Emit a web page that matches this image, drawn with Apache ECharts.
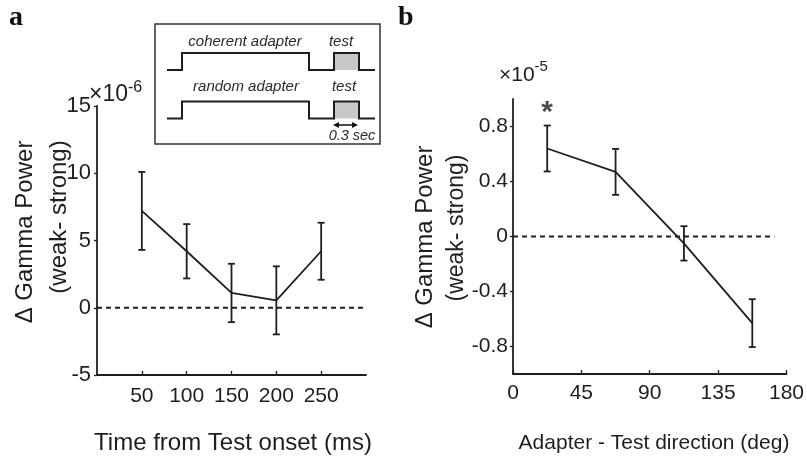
<!DOCTYPE html>
<html><head><meta charset="utf-8">
<script src="https://cdn.jsdelivr.net/npm/echarts@6/dist/echarts.min.js"></script>
<style>html,body{margin:0;padding:0;background:#fff}#c{width:807px;height:462px}</style>
</head><body><div id="c"></div>
<script>
// Panel a data (units of 1e-6)
const timeMs = [50, 100, 150, 200, 250];
const gammaA = [7.2, 4.2, 1.1, 0.55, 4.2];
const errA = [2.9, 2.02, 2.17, 2.53, 2.12];
const ticksA_x = [50, 100, 150, 200, 250];
const zeroA = [[0, 0], [297, 0]];

// Panel b data (units of 1e-5)
const dirDeg = [22.5, 67.5, 112.5, 157.5];
const gammaB = [0.64, 0.47, -0.05, -0.63];
const errB = [0.167, 0.167, 0.125, 0.174];
const ticksB_y = [-0.8, -0.4, 0, 0.4, 0.8];
const zeroB = [[0, 0], [172, 0]];
const starB = [[22.5, 0.9]];

const FONT = 'Liberation Sans, Arial, sans-serif';
const INK = '#1e1e1e';

function errData(xs, ys, es) {
  return xs.map((x, i) => [x, ys[i] - es[i], ys[i] + es[i]]);
}
function errRender(params, api) {
  const x = api.value(0), lo = api.value(1), hi = api.value(2);
  const a = api.coord([x, hi]), b = api.coord([x, lo]);
  const w = 3.5;
  const st = {stroke: INK, lineWidth: 1.8};
  return {type: 'group', children: [
    {type: 'line', shape: {x1: a[0], y1: a[1], x2: b[0], y2: b[1]}, style: st},
    {type: 'line', shape: {x1: a[0]-w, y1: a[1], x2: a[0]+w, y2: a[1]}, style: st},
    {type: 'line', shape: {x1: b[0]-w, y1: b[1], x2: b[0]+w, y2: b[1]}, style: st}
  ]};
}

const axisLine = {show: true, onZero: false, lineStyle: {color: INK, width: 1.8}};
const chart = echarts.init(document.getElementById('c'), null, {renderer: 'canvas'});

const insetStroke = {stroke: '#1e1e1e', lineWidth: 2, fill: null};
function wave(y0, y1) {
  return [
    {type: 'polyline', shape: {points: [[167, y0], [182, y0], [182, y1], [309, y1], [309, y0], [334, y0], [334, y1], [359, y1], [359, y0], [375, y0]]}, style: insetStroke, z: 20}
  ];
}

chart.setOption({
  animation: false,
  textStyle: {fontFamily: FONT},
  grid: [
    {left: 97, right: 441, top: 106, bottom: 87},
    {left: 513, right: 19, top: 99, bottom: 88}
  ],
  xAxis: [
    {gridIndex: 0, type: 'value', min: 0, max: 300,
     axisLine: axisLine, splitLine: {show: false},
     axisTick: {show: true, inside: true, length: 4, lineStyle: {color: INK, width: 1.3}, customValues: ticksA_x},
     axisLabel: {color: INK, fontSize: 21, margin: 11, customValues: ticksA_x, fontFamily: FONT}},
    {gridIndex: 1, type: 'value', min: 0, max: 180, interval: 45,
     axisLine: axisLine, splitLine: {show: false},
     axisTick: {show: true, inside: true, length: 4, lineStyle: {color: INK, width: 1.3}},
     axisLabel: {color: INK, fontSize: 21, margin: 9, fontFamily: FONT}}
  ],
  yAxis: [
    {gridIndex: 0, type: 'value', min: -5, max: 15, interval: 5,
     axisLine: axisLine, splitLine: {show: false},
     axisTick: {show: true, length: 3, lineStyle: {color: INK, width: 1.3}},
     axisLabel: {color: INK, fontSize: 22, margin: 6, fontFamily: FONT}},
    {gridIndex: 1, type: 'value', min: -1, max: 1,
     axisLine: axisLine, splitLine: {show: false},
     axisTick: {show: true, length: 3, lineStyle: {color: INK, width: 1.3}, customValues: ticksB_y},
     axisLabel: {color: INK, fontSize: 21, margin: 5, customValues: ticksB_y, fontFamily: FONT,
       formatter: v => (Math.abs(v) < 1e-9 ? '0' : String(Math.round(v * 10) / 10))}}
  ],
  series: [
    {type: 'line', xAxisIndex: 0, yAxisIndex: 0, data: zeroA, symbol: 'none',
     lineStyle: {color: INK, width: 1.8, type: [5, 4]}, z: 1},
    {type: 'line', xAxisIndex: 0, yAxisIndex: 0, data: timeMs.map((x, i) => [x, gammaA[i]]), symbol: 'none',
     lineStyle: {color: INK, width: 1.8}, z: 3},
    {type: 'custom', xAxisIndex: 0, yAxisIndex: 0, data: errData(timeMs, gammaA, errA), renderItem: errRender, z: 4},
    {type: 'line', xAxisIndex: 1, yAxisIndex: 1, data: zeroB, symbol: 'none',
     lineStyle: {color: INK, width: 1.8, type: [5, 4]}, z: 1},
    {type: 'line', xAxisIndex: 1, yAxisIndex: 1, data: dirDeg.map((x, i) => [x, gammaB[i]]), symbol: 'none',
     lineStyle: {color: INK, width: 1.8}, z: 3},
    {type: 'custom', xAxisIndex: 1, yAxisIndex: 1, data: errData(dirDeg, gammaB, errB), renderItem: errRender, z: 4},
    {type: 'scatter', xAxisIndex: 1, yAxisIndex: 1, data: starB, symbolSize: 0,
     label: {show: true, formatter: '*', position: 'inside', color: INK, fontSize: 30, fontWeight: 'bold', fontFamily: FONT}}
  ],
  graphic: [
    // panel letters
    {type: 'text', left: 9, top: 4, style: {text: 'a', font: 'bold 28px "Liberation Serif", serif', fill: '#111'}},
    {type: 'text', left: 398, top: 4, style: {text: 'b', font: 'bold 28px "Liberation Serif", serif', fill: '#111'}},
    // exponent labels
    {type: 'text', x: 89, y: 95, style: {text: '{m|×10}{s|-6}', verticalAlign: 'middle', fill: INK,
      rich: {m: {fontSize: 23, fontFamily: FONT, fill: INK}, s: {fontSize: 16, fontFamily: FONT, fill: INK, padding: [0, 0, 14, 0]}}}},
    {type: 'text', x: 499, y: 75, style: {text: '{m|×10}{s|-5}', verticalAlign: 'middle', fill: INK,
      rich: {m: {fontSize: 21, fontFamily: FONT, fill: INK}, s: {fontSize: 15, fontFamily: FONT, fill: INK, padding: [0, 0, 16, 0]}}}},
    // y titles panel a
    {type: 'text', x: 25, y: 232, rotation: Math.PI / 2, style: {text: 'Δ Gamma Power', fontSize: 24, fontFamily: FONT, fill: INK, align: 'center', verticalAlign: 'middle'}},
    {type: 'text', x: 59, y: 217, rotation: Math.PI / 2, style: {text: '(weak- strong)', fontSize: 24, fontFamily: FONT, fill: INK, align: 'center', verticalAlign: 'middle'}},
    // y titles panel b
    {type: 'text', x: 425, y: 237, rotation: Math.PI / 2, style: {text: 'Δ Gamma Power', fontSize: 24, fontFamily: FONT, fill: INK, align: 'center', verticalAlign: 'middle'}},
    {type: 'text', x: 457, y: 228, rotation: Math.PI / 2, style: {text: '(weak- strong)', fontSize: 23, fontFamily: FONT, fill: INK, align: 'center', verticalAlign: 'middle'}},
    // x titles
    {type: 'text', x: 233, y: 443, style: {text: 'Time from Test onset (ms)', fontSize: 24, fontFamily: FONT, fill: INK, align: 'center', verticalAlign: 'middle'}},
    {type: 'text', x: 654, y: 443, style: {text: 'Adapter - Test direction (deg)', fontSize: 21, fontFamily: FONT, fill: INK, align: 'center', verticalAlign: 'middle'}},
    // inset box
    {type: 'rect', shape: {x: 155, y: 24, width: 225, height: 120}, style: {fill: '#fff', stroke: '#333', lineWidth: 1.5}, z: 10},
    {type: 'rect', shape: {x: 334, y: 53, width: 25, height: 17}, style: {fill: '#c8c8c8'}, z: 15},
    {type: 'rect', shape: {x: 334, y: 101.5, width: 25, height: 17}, style: {fill: '#c8c8c8'}, z: 15},
    ...wave(70, 53),
    ...wave(118.5, 101.5),
    {type: 'text', x: 245, y: 42, z: 20, style: {text: 'coherent adapter', font: 'italic 15px "Liberation Sans", Arial, sans-serif', fill: '#2a2a2a', align: 'center', verticalAlign: 'middle'}},
    {type: 'text', x: 341, y: 42, z: 20, style: {text: 'test', font: 'italic 15px "Liberation Sans", Arial, sans-serif', fill: '#2a2a2a', align: 'center', verticalAlign: 'middle'}},
    {type: 'text', x: 246, y: 87, z: 20, style: {text: 'random adapter', font: 'italic 15px "Liberation Sans", Arial, sans-serif', fill: '#2a2a2a', align: 'center', verticalAlign: 'middle'}},
    {type: 'text', x: 344, y: 87, z: 20, style: {text: 'test', font: 'italic 15px "Liberation Sans", Arial, sans-serif', fill: '#2a2a2a', align: 'center', verticalAlign: 'middle'}},
    {type: 'line', shape: {x1: 335, y1: 125, x2: 356, y2: 125}, style: {stroke: '#111', lineWidth: 1.5}, z: 20},
    {type: 'polygon', shape: {points: [[333, 125], [339, 122], [339, 128]]}, style: {fill: '#111'}, z: 20},
    {type: 'polygon', shape: {points: [[358, 125], [352, 122], [352, 128]]}, style: {fill: '#111'}, z: 20},
    {type: 'text', x: 352, y: 136, z: 20, style: {text: '0.3 sec', font: 'italic 14.5px "Liberation Sans", Arial, sans-serif', fill: '#2a2a2a', align: 'center', verticalAlign: 'middle'}}
  ]
});
</script></body></html>
